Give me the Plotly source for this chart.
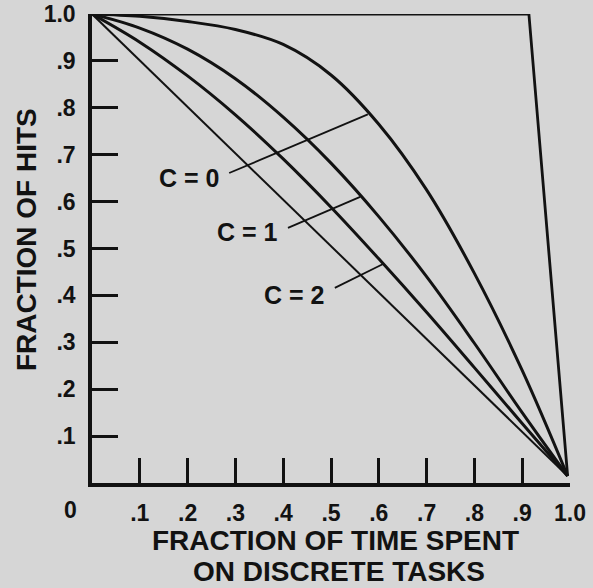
import plotly.graph_objects as go

# ---- data ----
x_ticks = [0.1, 0.2, 0.3, 0.4, 0.5, 0.6, 0.7, 0.8, 0.9, 1.0]
x_tick_labels = [".1", ".2", ".3", ".4", ".5", ".6", ".7", ".8", ".9", "1.0"]
y_ticks = [0.1, 0.2, 0.3, 0.4, 0.5, 0.6, 0.7, 0.8, 0.9, 1.0]
y_tick_labels = [".1", ".2", ".3", ".4", ".5", ".6", ".7", ".8", ".9", "1.0"]

# straight diagonal (thin)
diag_x = [0.0, 0.995]
diag_y = [1.0, 0.015]

curve_x = [0.0, 0.1, 0.2, 0.3, 0.4, 0.5, 0.6, 0.7, 0.8, 0.9, 0.995]
# C = 2 curve
c2_y = [1.0, 0.940, 0.868, 0.785, 0.691, 0.588, 0.478, 0.364, 0.246, 0.127, 0.015]
# C = 1 curve
c1_y = [1.0, 0.970, 0.925, 0.862, 0.780, 0.682, 0.568, 0.440, 0.298, 0.150, 0.015]
# C = 0 curve
c0_y = [1.0, 0.995, 0.984, 0.967, 0.935, 0.870, 0.765, 0.625, 0.447, 0.240, 0.015]

# upper bound (top edge then drop)
box_x = [0.0, 0.914, 0.995]
box_y = [1.0, 1.0, 0.015]

# leader lines from labels to curves
lead_c0_x = [0.287, 0.577]
lead_c0_y = [0.661, 0.786]
lead_c1_x = [0.410, 0.561]
lead_c1_y = [0.544, 0.610]
lead_c2_x = [0.508, 0.609]
lead_c2_y = [0.416, 0.467]

labels = ["C = 0", "C = 1", "C = 2"]
label_x = [0.270, 0.394, 0.489]
label_y = [0.650, 0.535, 0.401]

# ---- styling ----
INK = "#121212"
BG = "#d6d6d6"
FONT = "Liberation Sans, Arial, Helvetica, sans-serif"

fig = go.Figure()

def add_line(xs, ys, w, shape="linear"):
    fig.add_trace(go.Scatter(
        x=xs, y=ys, mode="lines",
        line=dict(color=INK, width=w, shape=shape, smoothing=1.0),
        cliponaxis=False, hoverinfo="skip", showlegend=False))

add_line(diag_x, diag_y, 2.0)
add_line(curve_x, c2_y, 3.0, "spline")
add_line(curve_x, c1_y, 3.0, "spline")
add_line(curve_x, c0_y, 3.0, "spline")
add_line(box_x, box_y, 2.8)
add_line(lead_c0_x, lead_c0_y, 1.8)
add_line(lead_c1_x, lead_c1_y, 1.8)
add_line(lead_c2_x, lead_c2_y, 1.8)

for t, lx, ly in zip(labels, label_x, label_y):
    fig.add_annotation(x=lx, y=ly, xref="x", yref="y", text=t, showarrow=False,
                       xanchor="right", yanchor="middle",
                       font=dict(family=FONT, size=25, color=INK, weight=700))

# origin label "0"
fig.add_annotation(x=-0.044, y=-0.058, xref="paper", yref="paper", text="0",
                   showarrow=False, xanchor="center", yanchor="middle",
                   font=dict(family=FONT, size=23, color=INK, weight=700))

# axis titles
fig.add_annotation(x=0.509, y=-0.122, xref="paper", yref="paper",
                   text="FRACTION OF TIME SPENT", showarrow=False,
                   xanchor="center", yanchor="middle",
                   font=dict(family=FONT, size=28, color=INK, weight=700))
fig.add_annotation(x=0.516, y=-0.189, xref="paper", yref="paper",
                   text="ON DISCRETE TASKS", showarrow=False,
                   xanchor="center", yanchor="middle",
                   font=dict(family=FONT, size=28, color=INK, weight=700))
fig.add_annotation(x=-0.138, y=0.518, xref="paper", yref="paper",
                   text="FRACTION OF HITS", showarrow=False, textangle=-90,
                   xanchor="center", yanchor="middle",
                   font=dict(family=FONT, size=28, color=INK, weight=700))

fig.update_xaxes(range=[0, 1], tickvals=x_ticks, ticktext=x_tick_labels,
                 ticks="inside", ticklen=25, tickwidth=3, tickcolor=INK,
                 showline=True, linewidth=3.5, linecolor=INK,
                 showgrid=False, zeroline=False, ticklabelstandoff=7,
                 tickfont=dict(family=FONT, size=23, color=INK, weight=700),
                 automargin=False, fixedrange=True)
fig.update_yaxes(range=[0, 1], tickvals=y_ticks, ticktext=y_tick_labels,
                 ticks="inside", ticklen=26, tickwidth=3, tickcolor=INK,
                 showline=True, linewidth=3.5, linecolor=INK,
                 showgrid=False, zeroline=False, ticklabelstandoff=8,
                 tickfont=dict(family=FONT, size=23, color=INK, weight=700),
                 automargin=False, fixedrange=True)

fig.update_layout(width=593, height=588,
                  margin=dict(l=92, r=23, t=14, b=105, autoexpand=False),
                  paper_bgcolor=BG, plot_bgcolor=BG,
                  showlegend=False)

fig.write_html(
    "out.html",
    config={"displayModeBar": False},
    post_script="document.body.style.margin='0';"
                "document.body.style.background='" + BG + "';",
)
